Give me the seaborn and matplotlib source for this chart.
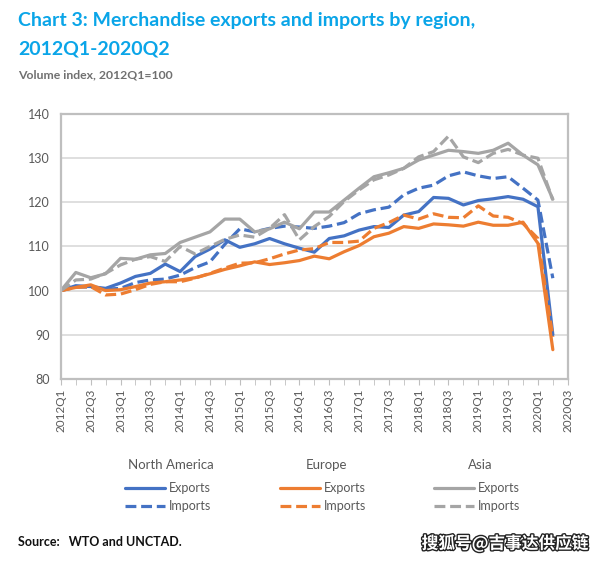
import numpy as np
import pandas as pd
import seaborn as sns
import matplotlib.pyplot as plt
from matplotlib.lines import Line2D
import matplotlib.patheffects as pe

sns.set_style("white")
plt.rcParams['font.family'] = ['Lato', 'DejaVu Sans']

# 2012Q1 ... 2020Q2, volume index 2012Q1=100
na_exp = [100, 101.1, 100.9, 100.5, 101.7, 103.2, 103.9, 106.0, 104.3, 107.7,
          109.4, 111.5, 109.8, 110.6, 111.8, 110.6, 109.6, 108.7, 111.8, 112.4,
          113.7, 114.5, 114.3, 117.1, 117.9, 121.1, 120.9, 119.4, 120.4, 120.8,
          121.3, 120.7, 119.0, 90.0]
na_imp = [100, 100.8, 100.8, 100.3, 100.5, 101.8, 102.4, 102.6, 103.5, 105.2,
          106.5, 110.5, 114.0, 113.3, 114.1, 114.6, 114.4, 114.1, 114.6, 115.4,
          117.4, 118.3, 118.9, 121.7, 123.2, 123.9, 126.0, 126.9, 126.0, 125.4,
          125.8, 123.2, 120.5, 102.8]
eu_exp = [100, 100.7, 101.3, 100.0, 100.2, 100.9, 101.7, 102.0, 102.4, 102.9,
          103.8, 104.8, 105.6, 106.5, 105.9, 106.3, 106.8, 107.8, 107.2, 108.8,
          110.2, 112.2, 113.0, 114.5, 114.1, 115.1, 114.9, 114.6, 115.5, 114.8,
          114.8, 115.5, 110.7, 86.6]
eu_imp = [100, 100.7, 100.9, 99.0, 99.2, 100.2, 101.4, 102.0, 102.0, 102.8,
          103.9, 105.1, 106.2, 106.3, 107.2, 108.3, 109.2, 109.5, 110.9, 110.9,
          111.2, 114.1, 115.4, 117.1, 116.2, 117.4, 116.6, 116.5, 119.2, 116.9,
          116.6, 115.2, 111.8, 89.5]
asia_exp = [100, 104.1, 102.9, 103.8, 107.3, 107.1, 108.1, 108.4, 110.9, 112.1,
            113.3, 116.2, 116.2, 113.3, 114.0, 115.5, 114.0, 117.8, 117.8, 120.5,
            123.2, 125.8, 126.7, 127.7, 129.6, 130.7, 131.8, 131.5, 131.1, 131.8,
            133.4, 130.7, 128.5, 120.7]
asia_imp = [100, 102.4, 102.6, 103.9, 105.8, 107.1, 107.7, 106.6, 110.0, 108.3,
            110.0, 111.6, 112.6, 112.1, 114.1, 117.2, 111.5, 114.5, 116.8, 120.2,
            122.8, 125.1, 126.2, 127.7, 130.3, 131.5, 135.0, 130.3, 129.0, 131.1,
            132.0, 130.7, 130.0, 120.5]

tick_labels = ["2012Q1", "2012Q3", "2013Q1", "2013Q3", "2014Q1", "2014Q3",
               "2015Q1", "2015Q3", "2016Q1", "2016Q3", "2017Q1", "2017Q3",
               "2018Q1", "2018Q3", "2019Q1", "2019Q3", "2020Q1", "2020Q3"]

regions = ["North America", "Europe", "Asia"]
colors = {"North America": "#4472C4", "Europe": "#ED7D31", "Asia": "#A5A5A5"}

series = {("North America", "Exports"): na_exp, ("North America", "Imports"): na_imp,
          ("Europe", "Exports"): eu_exp, ("Europe", "Imports"): eu_imp,
          ("Asia", "Exports"): asia_exp, ("Asia", "Imports"): asia_imp}
rows = []
for (reg, flow), vals in series.items():
    for i, v in enumerate(vals):
        rows.append({"q": i, "value": v, "region": reg, "flow": flow})
df = pd.DataFrame(rows)

fig = plt.figure(figsize=(5.97, 5.62), dpi=100)
ax = fig.add_axes([0.102, 0.326, 0.849, 0.471])

sns.lineplot(data=df, x="q", y="value", hue="region", style="flow",
             hue_order=regions, palette=colors,
             dashes={"Exports": "", "Imports": (3.4, 1.5)},
             linewidth=2.3, legend=False, ax=ax)

ax.set_xlim(0, 34)
ax.set_ylim(80, 140)
ax.set_yticks(range(80, 141, 10))
ax.set_xticks(range(0, 35, 2))
ax.set_xticklabels(tick_labels, rotation=90)
ax.set_xticks(range(0, 35), minor=True)
ax.set_xlabel("")
ax.set_ylabel("")
ax.yaxis.grid(True, color="#D9D9D9", linewidth=1.2)
ax.xaxis.grid(False)
for s in ax.spines.values():
    s.set_color("#BFBFBF")
    s.set_linewidth(1.6)
ax.tick_params(axis="y", length=0, labelsize=9, labelcolor="#595959", pad=8)
ax.tick_params(axis="x", which="both", length=4, color="#BFBFBF", bottom=True,
               labelsize=8.5, labelcolor="#595959", pad=3)

# titles
fig.text(0.030, 0.963, "Chart 3: Merchandise exports and imports by region,",
         fontsize=14.0, fontweight="bold", color="#0AA5E8", va="center")
fig.text(0.030, 0.913, "2012Q1-2020Q2",
         fontsize=14.0, fontweight="bold", color="#0AA5E8", va="center")
fig.text(0.030, 0.866, "Volume index, 2012Q1=100",
         fontsize=8.8, fontweight="bold", color="#707070", va="center")

# legends
hx = [0.209, 0.469, 0.727]
for reg, x0 in zip(regions, hx):
    c = colors[reg]
    fig.text(x0 + 0.078, 0.173, reg, fontsize=9.5, color="#595959", ha="center", va="center")
    handles = [Line2D([], [], color=c, lw=2.3),
               Line2D([], [], color=c, lw=2.3, dashes=(3.4, 1.5))]
    fig.legend(handles, ["Exports", "Imports"], loc="upper left",
               bbox_to_anchor=(x0, 0.142), frameon=False, fontsize=9,
               handlelength=3.2, handletextpad=0.3, labelspacing=0.5,
               borderpad=0, borderaxespad=0, labelcolor="#595959")

fig.text(0.030, 0.035, "Source:   WTO and UNCTAD.", fontsize=9, fontweight="bold",
         color="#111111", va="center")
fig.text(0.985, 0.033, "搜狐号@吉事达供应链", fontsize=12, color="white", ha="right",
         va="center", family=["Noto Sans CJK SC", "DejaVu Sans"], fontweight="bold",
         path_effects=[pe.withStroke(linewidth=2, foreground="#222222")])

fig.savefig("out.png", dpi=100)
